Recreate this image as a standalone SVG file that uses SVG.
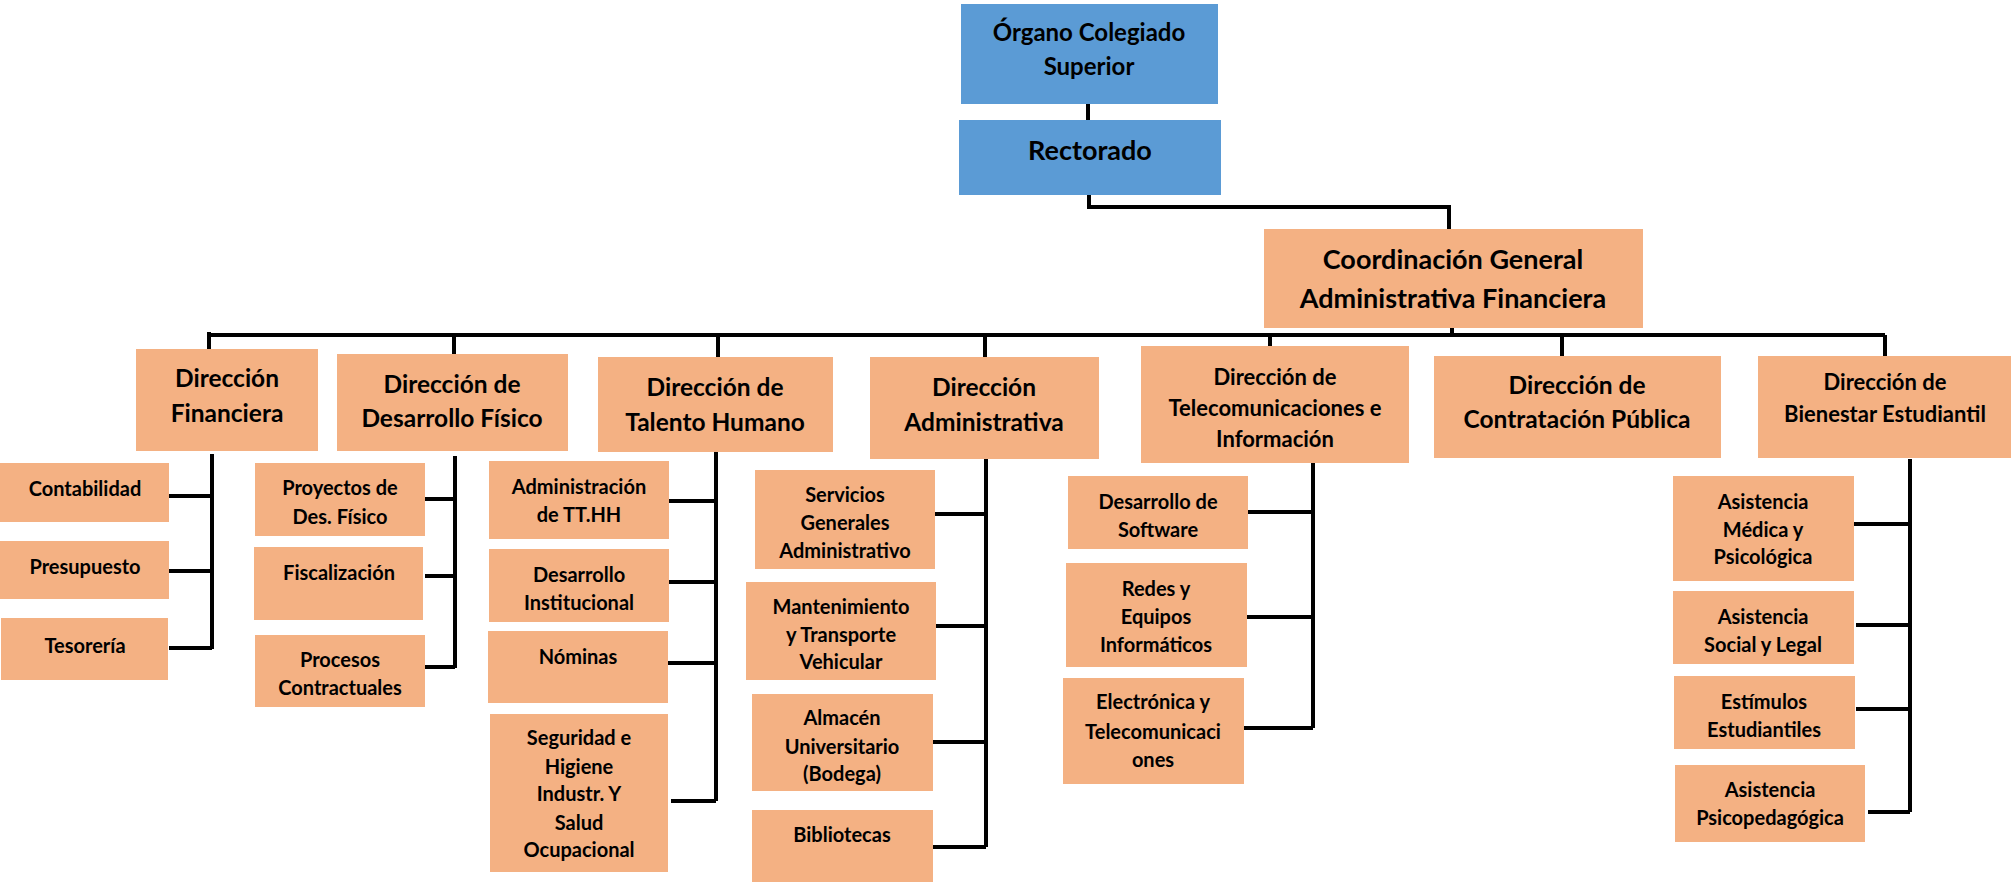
<svg xmlns="http://www.w3.org/2000/svg" width="2011" height="886" viewBox="0 0 2011 886">
<style>
.blue{fill:#5B9BD5}
.org{fill:#F4B183}
text{font-family:Lato,"Liberation Sans",sans-serif;font-weight:bold;fill:#000;text-anchor:middle}
.top{font-size:24px}
.rect{font-size:27px}
.coord{font-size:27px}
.d{font-size:24.5px}
.ds{font-size:22px}
.c{font-size:20px}
.ln{stroke:#000;stroke-width:4;fill:none}
</style>
<rect width="2011" height="886" fill="#fff"/>
<g id="connectors" class="ln">
<path d="M1088 104V120"/>
<path d="M1089 195V207H1449V229"/>
<path d="M1452 328V335"/>
<path d="M209 335H1885"/>
<path d="M209 332V350M454 335V355M718 335V358M985 335V358M1270 335V347M1562 335V357M1885 335V357"/>
<path d="M212 454V649M169 496H212M169 571H212M169 648H212"/>
<path d="M455 456V668M425 499H455M425 576H455M425 667H455"/>
<path d="M716 452V801M669 501H716M669 582H716M668 663H716M671 801H716"/>
<path d="M986 459V847M933 514H986M936 626H986M933 742H986M933 847H986"/>
<path d="M1313 463V728M1248 512H1313M1247 617H1313M1244 728H1313"/>
<path d="M1910 459V812M1854 524H1910M1856 625H1910M1856 709H1910M1868 812H1910"/>
</g>
<g id="n-organo"><rect class="blue" x="961" y="4" width="257" height="100"/><text class="top" x="1089" y="41">Órgano Colegiado</text><text class="top" x="1089" y="75">Superior</text></g>
<g id="n-rectorado"><rect class="blue" x="959" y="120" width="262" height="75"/><text class="rect" x="1090" y="160">Rectorado</text></g>
<g id="n-coord"><rect class="org" x="1264" y="229" width="379" height="99"/><text class="coord" x="1453" y="269">Coordinación General</text><text class="coord" x="1453" y="308">Administrativa Financiera</text></g>

<g id="n-financiera"><rect class="org" x="136" y="349" width="182" height="102"/><text class="d" x="227" y="387">Dirección</text><text class="d" x="227" y="422">Financiera</text></g>
<g id="n-desfisico"><rect class="org" x="337" y="354" width="231" height="97"/><text class="d" x="452" y="393">Dirección de</text><text class="d" x="452" y="427">Desarrollo Físico</text></g>
<g id="n-talento"><rect class="org" x="598" y="357" width="235" height="95"/><text class="d" x="715" y="396">Dirección de</text><text class="d" x="715" y="431">Talento Humano</text></g>
<g id="n-admin"><rect class="org" x="870" y="357" width="229" height="102"/><text class="d" x="984" y="396">Dirección</text><text class="d" x="984" y="431">Administrativa</text></g>
<g id="n-telecom"><rect class="org" x="1141" y="346" width="268" height="117"/><text class="ds" x="1275" y="385">Dirección de</text><text class="ds" x="1275" y="416">Telecomunicaciones e</text><text class="ds" x="1275" y="447">Información</text></g>
<g id="n-contratacion"><rect class="org" x="1434" y="356" width="287" height="102"/><text class="d" x="1577" y="394">Dirección de</text><text class="d" x="1577" y="428">Contratación Pública</text></g>
<g id="n-bienestar"><rect class="org" x="1758" y="356" width="253" height="102"/><text class="ds" x="1885" y="390">Dirección de</text><text class="ds" x="1885" y="422">Bienestar Estudiantil</text></g>

<g id="n-contabilidad"><rect class="org" x="0" y="463" width="169" height="59"/><text class="c" x="85" y="496">Contabilidad</text></g>
<g id="n-presupuesto"><rect class="org" x="0" y="541" width="169" height="58"/><text class="c" x="85" y="574">Presupuesto</text></g>
<g id="n-tesoreria"><rect class="org" x="1" y="618" width="167" height="62"/><text class="c" x="85" y="653">Tesorería</text></g>

<g id="n-proyectos"><rect class="org" x="255" y="463" width="170" height="73"/><text class="c" x="340" y="495">Proyectos de</text><text class="c" x="340" y="524">Des. Físico</text></g>
<g id="n-fiscalizacion"><rect class="org" x="254" y="547" width="169" height="73"/><text class="c" x="339" y="580">Fiscalización</text></g>
<g id="n-procesos"><rect class="org" x="255" y="635" width="170" height="72"/><text class="c" x="340" y="667">Procesos</text><text class="c" x="340" y="695">Contractuales</text></g>

<g id="n-admtthh"><rect class="org" x="489" y="461" width="180" height="78"/><text class="c" x="579" y="494">Administración</text><text class="c" x="579" y="522">de TT.HH</text></g>
<g id="n-desinst"><rect class="org" x="489" y="549" width="180" height="73"/><text class="c" x="579" y="582">Desarrollo</text><text class="c" x="579" y="610">Institucional</text></g>
<g id="n-nominas"><rect class="org" x="488" y="631" width="180" height="72"/><text class="c" x="578" y="664">Nóminas</text></g>
<g id="n-seguridad"><rect class="org" x="490" y="714" width="178" height="158"/><text class="c" x="579" y="745">Seguridad e</text><text class="c" x="579" y="774">Higiene</text><text class="c" x="579" y="801">Industr. Y</text><text class="c" x="579" y="830">Salud</text><text class="c" x="579" y="857">Ocupacional</text></g>

<g id="n-servicios"><rect class="org" x="755" y="470" width="180" height="99"/><text class="c" x="845" y="502">Servicios</text><text class="c" x="845" y="530">Generales</text><text class="c" x="845" y="558">Administrativo</text></g>
<g id="n-mantenimiento"><rect class="org" x="746" y="582" width="190" height="98"/><text class="c" x="841" y="614">Mantenimiento</text><text class="c" x="841" y="642">y Transporte</text><text class="c" x="841" y="669">Vehicular</text></g>
<g id="n-almacen"><rect class="org" x="752" y="694" width="181" height="97"/><text class="c" x="842" y="725">Almacén</text><text class="c" x="842" y="754">Universitario</text><text class="c" x="842" y="781">(Bodega)</text></g>
<g id="n-bibliotecas"><rect class="org" x="752" y="810" width="181" height="72"/><text class="c" x="842" y="842">Bibliotecas</text></g>

<g id="n-software"><rect class="org" x="1068" y="476" width="180" height="73"/><text class="c" x="1158" y="509">Desarrollo de</text><text class="c" x="1158" y="537">Software</text></g>
<g id="n-redes"><rect class="org" x="1066" y="563" width="181" height="104"/><text class="c" x="1156" y="596">Redes y</text><text class="c" x="1156" y="624">Equipos</text><text class="c" x="1156" y="652">Informáticos</text></g>
<g id="n-electronica"><rect class="org" x="1063" y="678" width="181" height="106"/><text class="c" x="1153" y="709">Electrónica y</text><text class="c" x="1153" y="739">Telecomunicaci</text><text class="c" x="1153" y="767">ones</text></g>

<g id="n-medica"><rect class="org" x="1673" y="476" width="181" height="105"/><text class="c" x="1763" y="509">Asistencia</text><text class="c" x="1763" y="537">Médica y</text><text class="c" x="1763" y="564">Psicológica</text></g>
<g id="n-social"><rect class="org" x="1673" y="591" width="181" height="73"/><text class="c" x="1763" y="624">Asistencia</text><text class="c" x="1763" y="652">Social y Legal</text></g>
<g id="n-estimulos"><rect class="org" x="1674" y="676" width="181" height="73"/><text class="c" x="1764" y="709">Estímulos</text><text class="c" x="1764" y="737">Estudiantiles</text></g>
<g id="n-psicoped"><rect class="org" x="1675" y="765" width="190" height="77"/><text class="c" x="1770" y="797">Asistencia</text><text class="c" x="1770" y="825">Psicopedagógica</text></g>
</svg>
